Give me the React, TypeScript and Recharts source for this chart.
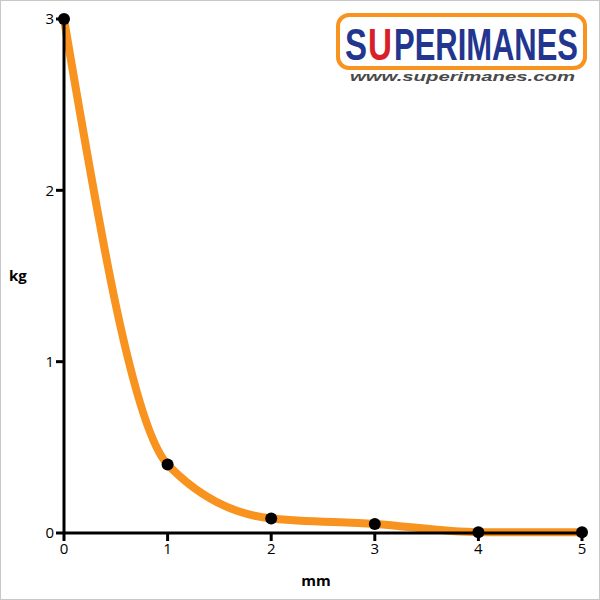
import React from 'react';
import { LineChart, Line, XAxis, YAxis } from 'recharts';

const DISTANCE_MM = [0, 1, 2, 3, 4, 5];
const FORCE_KG = [3, 0.4, 0.085, 0.053, 0.005, 0.005];
const X_TICKS = [0, 1, 2, 3, 4, 5];
const Y_TICKS = [0, 1, 2, 3];

const data = DISTANCE_MM.map((mm, i) => ({ mm, kg: FORCE_KG[i] }));

const FONT = '"Open Sans", "DejaVu Sans", sans-serif';
const LOGO_FONT = 'Arial, "Liberation Sans", sans-serif';
const ORANGE = '#f7931e';
const BRAND_BLUE = '#22368f';

// brand badge, top right (letters stretched tall, like the real logo)
const Logo = () => (
  <svg width={254} height={74} style={{ position: 'absolute', left: 336, top: 13 }}>
    <rect x={2} y={2} width={247} height={53} rx={11} fill="#fff" stroke={ORANGE} strokeWidth={4} />
    <g transform="translate(0,47) scale(1,1.42)" fontFamily={LOGO_FONT} fontWeight={900} fontSize={31}>
      <text x={9} y={0} textLength={22} lengthAdjust="spacingAndGlyphs" fill={BRAND_BLUE}>S</text>
      <text x={32} y={0} textLength={24} lengthAdjust="spacingAndGlyphs" fill="#d8202a">U</text>
      <text x={58} y={0} textLength={184} lengthAdjust="spacingAndGlyphs" fill={BRAND_BLUE}>PERIMANES</text>
    </g>
    <text
      x={14}
      y={68}
      textLength={225}
      lengthAdjust="spacingAndGlyphs"
      fontFamily={LOGO_FONT}
      fontStyle="italic"
      fontWeight={700}
      fontSize={13}
      fill="#4a4a4a"
    >
      www.superimanes.com
    </text>
  </svg>
);

export default function App() {
  return (
    <div style={{ position: 'absolute', left: 0, top: 0, width: 600, height: 600, background: '#fff' }}>
      <LineChart width={600} height={600} data={data} margin={{ top: 19, right: 18, left: 0, bottom: 0 }}>
        <XAxis
          dataKey="mm"
          type="number"
          domain={[0, 5]}
          ticks={X_TICKS}
          height={67}
          stroke="#000"
          strokeWidth={3}
          tickSize={8}
          tick={{ fill: '#000', fontSize: 15, fontFamily: FONT }}
          label={{ value: 'mm', position: 'insideBottom', offset: 14, dx: -7, fill: '#000', fontSize: 15, fontWeight: 700, fontFamily: FONT }}
        />
        <YAxis
          dataKey="kg"
          type="number"
          domain={[0, 3]}
          ticks={Y_TICKS}
          width={64}
          stroke="#000"
          strokeWidth={3}
          tickSize={8}
          tick={{ fill: '#000', fontSize: 15, fontFamily: FONT }}
          label={{ value: 'kg', position: 'insideLeft', offset: 9, fill: '#000', fontSize: 15, fontWeight: 700, fontFamily: FONT }}
        />
        <Line
          type="monotone"
          dataKey="kg"
          stroke={ORANGE}
          strokeWidth={8}
          dot={{ r: 6, fill: '#000', stroke: 'none' }}
          isAnimationActive={false}
        />
      </LineChart>
      <Logo />
      <div style={{ position: 'absolute', left: 0, top: 0, width: 598, height: 598, border: '1px solid #c8c8c8', pointerEvents: 'none' }} />
    </div>
  );
}
